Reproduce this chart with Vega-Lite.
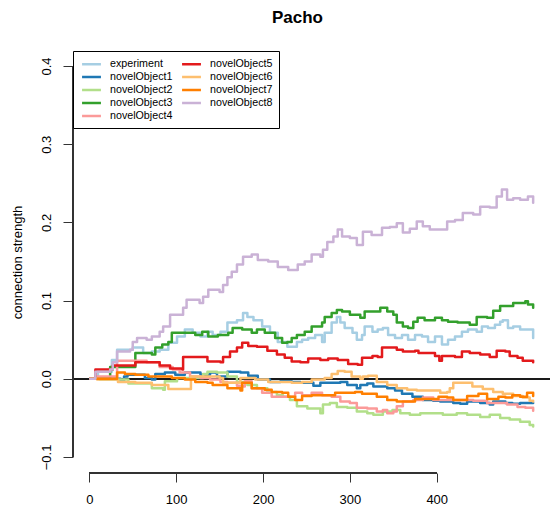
{
  "$schema": "https://vega.github.io/schema/vega-lite/v6.json",
  "width": 478,
  "height": 422,
  "autosize": {"type": "none"},
  "padding": {"left": 72, "top": 51, "right": 0, "bottom": 42},
  "config": {"view": {"stroke": null}, "font": "Liberation Sans"},
  "title": {"text": "Pacho", "font": "Liberation Sans", "fontSize": 17, "fontWeight": "bold", "color": "black", "anchor": "middle", "frame": "group", "dx": -13.5, "baseline": "alphabetic", "offset": 11},
  "data": {"values": [
    {"series":"experiment","step":1,"strength":0},{"series":"experiment","step":10,"strength":0.009},{"series":"experiment","step":26,"strength":0.024},{"series":"experiment","step":32,"strength":0.037},{"series":"experiment","step":50,"strength":0.040},{"series":"experiment","step":62,"strength":0.033},{"series":"experiment","step":72,"strength":0.035},{"series":"experiment","step":81,"strength":0.037},{"series":"experiment","step":91,"strength":0.046},{"series":"experiment","step":101,"strength":0.054},{"series":"experiment","step":110,"strength":0.063},{"series":"experiment","step":119,"strength":0.059},{"series":"experiment","step":128,"strength":0.054},{"series":"experiment","step":136,"strength":0.060},{"series":"experiment","step":142,"strength":0.056},{"series":"experiment","step":151,"strength":0.060},{"series":"experiment","step":159,"strength":0.072},{"series":"experiment","step":170,"strength":0.075},{"series":"experiment","step":177,"strength":0.084},{"series":"experiment","step":182,"strength":0.079},{"series":"experiment","step":189,"strength":0.075},{"series":"experiment","step":199,"strength":0.067},{"series":"experiment","step":208,"strength":0.059},{"series":"experiment","step":217,"strength":0.047},{"series":"experiment","step":228,"strength":0.041},{"series":"experiment","step":239,"strength":0.047},{"series":"experiment","step":245,"strength":0.050},{"series":"experiment","step":252,"strength":0.052},{"series":"experiment","step":260,"strength":0.056},{"series":"experiment","step":268,"strength":0.047},{"series":"experiment","step":271,"strength":0.059},{"series":"experiment","step":279,"strength":0.072},{"series":"experiment","step":285,"strength":0.079},{"series":"experiment","step":289,"strength":0.072},{"series":"experiment","step":294,"strength":0.065},{"series":"experiment","step":303,"strength":0.059},{"series":"experiment","step":308,"strength":0.050},{"series":"experiment","step":314,"strength":0.056},{"series":"experiment","step":317,"strength":0.067},{"series":"experiment","step":326,"strength":0.060},{"series":"experiment","step":332,"strength":0.063},{"series":"experiment","step":338,"strength":0.065},{"series":"experiment","step":344,"strength":0.056},{"series":"experiment","step":352,"strength":0.052},{"series":"experiment","step":360,"strength":0.056},{"series":"experiment","step":367,"strength":0.050},{"series":"experiment","step":375,"strength":0.056},{"series":"experiment","step":383,"strength":0.054},{"series":"experiment","step":390,"strength":0.047},{"series":"experiment","step":398,"strength":0.054},{"series":"experiment","step":406,"strength":0.044},{"series":"experiment","step":413,"strength":0.050},{"series":"experiment","step":421,"strength":0.054},{"series":"experiment","step":429,"strength":0.060},{"series":"experiment","step":436,"strength":0.063},{"series":"experiment","step":446,"strength":0.060},{"series":"experiment","step":452,"strength":0.067},{"series":"experiment","step":459,"strength":0.065},{"series":"experiment","step":467,"strength":0.069},{"series":"experiment","step":473,"strength":0.073},{"series":"experiment","step":476,"strength":0.075},{"series":"experiment","step":482,"strength":0.065},{"series":"experiment","step":488,"strength":0.067},{"series":"experiment","step":496,"strength":0.063},{"series":"experiment","step":504,"strength":0.063},{"series":"experiment","step":511,"strength":0.052},

    {"series":"novelObject1","step":1,"strength":0},{"series":"novelObject1","step":31,"strength":0},{"series":"novelObject1","step":36,"strength":-0.003},{"series":"novelObject1","step":40,"strength":0.003},{"series":"novelObject1","step":44,"strength":0.005},{"series":"novelObject1","step":64,"strength":0.001},{"series":"novelObject1","step":72,"strength":-0.001},{"series":"novelObject1","step":76,"strength":0.006},{"series":"novelObject1","step":87,"strength":0.008},{"series":"novelObject1","step":99,"strength":0.005},{"series":"novelObject1","step":110,"strength":0.008},{"series":"novelObject1","step":128,"strength":0.005},{"series":"novelObject1","step":139,"strength":0.008},{"series":"novelObject1","step":147,"strength":0.003},{"series":"novelObject1","step":159,"strength":0.009},{"series":"novelObject1","step":174,"strength":0.008},{"series":"novelObject1","step":183,"strength":0.004},{"series":"novelObject1","step":194,"strength":-0.001},{"series":"novelObject1","step":208,"strength":-0.004},{"series":"novelObject1","step":220,"strength":-0.003},{"series":"novelObject1","step":233,"strength":-0.004},{"series":"novelObject1","step":243,"strength":-0.005},{"series":"novelObject1","step":258,"strength":-0.009},{"series":"novelObject1","step":266,"strength":-0.005},{"series":"novelObject1","step":281,"strength":-0.005},{"series":"novelObject1","step":289,"strength":-0.004},{"series":"novelObject1","step":297,"strength":-0.008},{"series":"novelObject1","step":308,"strength":-0.012},{"series":"novelObject1","step":312,"strength":-0.008},{"series":"novelObject1","step":320,"strength":-0.006},{"series":"novelObject1","step":327,"strength":-0.010},{"series":"novelObject1","step":343,"strength":-0.012},{"series":"novelObject1","step":352,"strength":-0.015},{"series":"novelObject1","step":360,"strength":-0.019},{"series":"novelObject1","step":372,"strength":-0.023},{"series":"novelObject1","step":384,"strength":-0.027},{"series":"novelObject1","step":396,"strength":-0.028},{"series":"novelObject1","step":404,"strength":-0.029},{"series":"novelObject1","step":419,"strength":-0.031},{"series":"novelObject1","step":427,"strength":-0.032},{"series":"novelObject1","step":435,"strength":-0.029},{"series":"novelObject1","step":450,"strength":-0.031},{"series":"novelObject1","step":461,"strength":-0.033},{"series":"novelObject1","step":465,"strength":-0.029},{"series":"novelObject1","step":479,"strength":-0.031},{"series":"novelObject1","step":487,"strength":-0.032},{"series":"novelObject1","step":496,"strength":-0.031},{"series":"novelObject1","step":511,"strength":-0.031},

    {"series":"novelObject2","step":1,"strength":0},{"series":"novelObject2","step":12,"strength":-0.001},{"series":"novelObject2","step":45,"strength":-0.006},{"series":"novelObject2","step":72,"strength":-0.012},{"series":"novelObject2","step":85,"strength":-0.014},{"series":"novelObject2","step":87,"strength":-0.003},{"series":"novelObject2","step":101,"strength":0.001},{"series":"novelObject2","step":116,"strength":0.001},{"series":"novelObject2","step":131,"strength":0.006},{"series":"novelObject2","step":136,"strength":0.009},{"series":"novelObject2","step":147,"strength":0.008},{"series":"novelObject2","step":159,"strength":0.003},{"series":"novelObject2","step":170,"strength":-0.004},{"series":"novelObject2","step":182,"strength":-0.008},{"series":"novelObject2","step":193,"strength":-0.012},{"series":"novelObject2","step":205,"strength":-0.017},{"series":"novelObject2","step":216,"strength":-0.021},{"series":"novelObject2","step":223,"strength":-0.023},{"series":"novelObject2","step":231,"strength":-0.027},{"series":"novelObject2","step":239,"strength":-0.035},{"series":"novelObject2","step":251,"strength":-0.038},{"series":"novelObject2","step":266,"strength":-0.044},{"series":"novelObject2","step":269,"strength":-0.033},{"series":"novelObject2","step":277,"strength":-0.031},{"series":"novelObject2","step":285,"strength":-0.036},{"series":"novelObject2","step":297,"strength":-0.037},{"series":"novelObject2","step":308,"strength":-0.042},{"series":"novelObject2","step":320,"strength":-0.044},{"series":"novelObject2","step":327,"strength":-0.046},{"series":"novelObject2","step":338,"strength":-0.042},{"series":"novelObject2","step":349,"strength":-0.040},{"series":"novelObject2","step":358,"strength":-0.044},{"series":"novelObject2","step":369,"strength":-0.046},{"series":"novelObject2","step":381,"strength":-0.044},{"series":"novelObject2","step":400,"strength":-0.044},{"series":"novelObject2","step":407,"strength":-0.046},{"series":"novelObject2","step":423,"strength":-0.044},{"series":"novelObject2","step":435,"strength":-0.046},{"series":"novelObject2","step":450,"strength":-0.049},{"series":"novelObject2","step":461,"strength":-0.046},{"series":"novelObject2","step":473,"strength":-0.050},{"series":"novelObject2","step":484,"strength":-0.052},{"series":"novelObject2","step":496,"strength":-0.055},{"series":"novelObject2","step":507,"strength":-0.059},{"series":"novelObject2","step":511,"strength":-0.061},

    {"series":"novelObject3","step":1,"strength":0},{"series":"novelObject3","step":21,"strength":0},{"series":"novelObject3","step":24,"strength":0.015},{"series":"novelObject3","step":49,"strength":0.015},{"series":"novelObject3","step":53,"strength":0.033},{"series":"novelObject3","step":72,"strength":0.031},{"series":"novelObject3","step":76,"strength":0.040},{"series":"novelObject3","step":84,"strength":0.044},{"series":"novelObject3","step":91,"strength":0.047},{"series":"novelObject3","step":95,"strength":0.059},{"series":"novelObject3","step":107,"strength":0.059},{"series":"novelObject3","step":122,"strength":0.056},{"series":"novelObject3","step":130,"strength":0.060},{"series":"novelObject3","step":137,"strength":0.054},{"series":"novelObject3","step":148,"strength":0.056},{"series":"novelObject3","step":160,"strength":0.059},{"series":"novelObject3","step":165,"strength":0.065},{"series":"novelObject3","step":176,"strength":0.063},{"series":"novelObject3","step":187,"strength":0.059},{"series":"novelObject3","step":193,"strength":0.063},{"series":"novelObject3","step":202,"strength":0.059},{"series":"novelObject3","step":214,"strength":0.052},{"series":"novelObject3","step":222,"strength":0.046},{"series":"novelObject3","step":228,"strength":0.047},{"series":"novelObject3","step":233,"strength":0.052},{"series":"novelObject3","step":239,"strength":0.056},{"series":"novelObject3","step":248,"strength":0.060},{"series":"novelObject3","step":256,"strength":0.067},{"series":"novelObject3","step":268,"strength":0.072},{"series":"novelObject3","step":271,"strength":0.079},{"series":"novelObject3","step":279,"strength":0.084},{"series":"novelObject3","step":285,"strength":0.088},{"series":"novelObject3","step":291,"strength":0.086},{"series":"novelObject3","step":300,"strength":0.082},{"series":"novelObject3","step":312,"strength":0.078},{"series":"novelObject3","step":317,"strength":0.086},{"series":"novelObject3","step":329,"strength":0.086},{"series":"novelObject3","step":335,"strength":0.091},{"series":"novelObject3","step":343,"strength":0.086},{"series":"novelObject3","step":350,"strength":0.082},{"series":"novelObject3","step":354,"strength":0.072},{"series":"novelObject3","step":361,"strength":0.067},{"series":"novelObject3","step":367,"strength":0.065},{"series":"novelObject3","step":373,"strength":0.073},{"series":"novelObject3","step":378,"strength":0.078},{"series":"novelObject3","step":386,"strength":0.075},{"series":"novelObject3","step":398,"strength":0.078},{"series":"novelObject3","step":406,"strength":0.075},{"series":"novelObject3","step":413,"strength":0.073},{"series":"novelObject3","step":424,"strength":0.072},{"series":"novelObject3","step":438,"strength":0.069},{"series":"novelObject3","step":446,"strength":0.079},{"series":"novelObject3","step":458,"strength":0.078},{"series":"novelObject3","step":465,"strength":0.087},{"series":"novelObject3","step":473,"strength":0.093},{"series":"novelObject3","step":488,"strength":0.097},{"series":"novelObject3","step":502,"strength":0.099},{"series":"novelObject3","step":505,"strength":0.095},{"series":"novelObject3","step":511,"strength":0.091},

    {"series":"novelObject4","step":1,"strength":0},{"series":"novelObject4","step":7,"strength":0.003},{"series":"novelObject4","step":32,"strength":0.023},{"series":"novelObject4","step":53,"strength":0.023},{"series":"novelObject4","step":66,"strength":0.021},{"series":"novelObject4","step":81,"strength":0.015},{"series":"novelObject4","step":96,"strength":0.012},{"series":"novelObject4","step":104,"strength":0.008},{"series":"novelObject4","step":116,"strength":0.003},{"series":"novelObject4","step":128,"strength":0.001},{"series":"novelObject4","step":139,"strength":-0.001},{"series":"novelObject4","step":151,"strength":-0.004},{"series":"novelObject4","step":159,"strength":-0.005},{"series":"novelObject4","step":170,"strength":-0.009},{"series":"novelObject4","step":176,"strength":-0.010},{"series":"novelObject4","step":179,"strength":-0.003},{"series":"novelObject4","step":187,"strength":-0.012},{"series":"novelObject4","step":199,"strength":-0.018},{"series":"novelObject4","step":210,"strength":-0.023},{"series":"novelObject4","step":222,"strength":-0.023},{"series":"novelObject4","step":237,"strength":-0.018},{"series":"novelObject4","step":245,"strength":-0.021},{"series":"novelObject4","step":256,"strength":-0.018},{"series":"novelObject4","step":268,"strength":-0.021},{"series":"novelObject4","step":279,"strength":-0.023},{"series":"novelObject4","step":289,"strength":-0.029},{"series":"novelObject4","step":300,"strength":-0.031},{"series":"novelObject4","step":308,"strength":-0.037},{"series":"novelObject4","step":320,"strength":-0.038},{"series":"novelObject4","step":331,"strength":-0.042},{"series":"novelObject4","step":338,"strength":-0.040},{"series":"novelObject4","step":343,"strength":-0.044},{"series":"novelObject4","step":350,"strength":-0.042},{"series":"novelObject4","step":354,"strength":-0.035},{"series":"novelObject4","step":361,"strength":-0.029},{"series":"novelObject4","step":373,"strength":-0.027},{"series":"novelObject4","step":384,"strength":-0.024},{"series":"novelObject4","step":396,"strength":-0.027},{"series":"novelObject4","step":442,"strength":-0.028},{"series":"novelObject4","step":458,"strength":-0.031},{"series":"novelObject4","step":473,"strength":-0.031},{"series":"novelObject4","step":481,"strength":-0.033},{"series":"novelObject4","step":493,"strength":-0.036},{"series":"novelObject4","step":502,"strength":-0.037},{"series":"novelObject4","step":511,"strength":-0.041},

    {"series":"novelObject5","step":1,"strength":0},{"series":"novelObject5","step":7,"strength":0.012},{"series":"novelObject5","step":24,"strength":0.012},{"series":"novelObject5","step":27,"strength":0.017},{"series":"novelObject5","step":49,"strength":0.017},{"series":"novelObject5","step":53,"strength":0.021},{"series":"novelObject5","step":66,"strength":0.021},{"series":"novelObject5","step":81,"strength":0.017},{"series":"novelObject5","step":93,"strength":0.013},{"series":"novelObject5","step":107,"strength":0.012},{"series":"novelObject5","step":108,"strength":0.028},{"series":"novelObject5","step":124,"strength":0.028},{"series":"novelObject5","step":136,"strength":0.022},{"series":"novelObject5","step":151,"strength":0.021},{"series":"novelObject5","step":154,"strength":0.028},{"series":"novelObject5","step":162,"strength":0.035},{"series":"novelObject5","step":170,"strength":0.040},{"series":"novelObject5","step":176,"strength":0.046},{"series":"novelObject5","step":183,"strength":0.042},{"series":"novelObject5","step":193,"strength":0.041},{"series":"novelObject5","step":205,"strength":0.036},{"series":"novelObject5","step":216,"strength":0.031},{"series":"novelObject5","step":225,"strength":0.027},{"series":"novelObject5","step":233,"strength":0.022},{"series":"novelObject5","step":243,"strength":0.021},{"series":"novelObject5","step":252,"strength":0.026},{"series":"novelObject5","step":266,"strength":0.024},{"series":"novelObject5","step":275,"strength":0.026},{"series":"novelObject5","step":286,"strength":0.024},{"series":"novelObject5","step":298,"strength":0.019},{"series":"novelObject5","step":309,"strength":0.018},{"series":"novelObject5","step":314,"strength":0.027},{"series":"novelObject5","step":326,"strength":0.029},{"series":"novelObject5","step":332,"strength":0.028},{"series":"novelObject5","step":337,"strength":0.040},{"series":"novelObject5","step":349,"strength":0.040},{"series":"novelObject5","step":354,"strength":0.037},{"series":"novelObject5","step":361,"strength":0.035},{"series":"novelObject5","step":375,"strength":0.036},{"series":"novelObject5","step":379,"strength":0.033},{"series":"novelObject5","step":398,"strength":0.029},{"series":"novelObject5","step":403,"strength":0.023},{"series":"novelObject5","step":406,"strength":0.029},{"series":"novelObject5","step":421,"strength":0.028},{"series":"novelObject5","step":429,"strength":0.035},{"series":"novelObject5","step":438,"strength":0.033},{"series":"novelObject5","step":450,"strength":0.031},{"series":"novelObject5","step":461,"strength":0.028},{"series":"novelObject5","step":469,"strength":0.036},{"series":"novelObject5","step":479,"strength":0.035},{"series":"novelObject5","step":484,"strength":0.029},{"series":"novelObject5","step":493,"strength":0.027},{"series":"novelObject5","step":499,"strength":0.023},{"series":"novelObject5","step":511,"strength":0.021},

    {"series":"novelObject6","step":1,"strength":0},{"series":"novelObject6","step":9,"strength":-0.001},{"series":"novelObject6","step":33,"strength":-0.004},{"series":"novelObject6","step":53,"strength":-0.005},{"series":"novelObject6","step":72,"strength":-0.008},{"series":"novelObject6","step":91,"strength":-0.013},{"series":"novelObject6","step":116,"strength":-0.013},{"series":"novelObject6","step":117,"strength":0.003},{"series":"novelObject6","step":150,"strength":0.001},{"series":"novelObject6","step":154,"strength":-0.005},{"series":"novelObject6","step":170,"strength":-0.005},{"series":"novelObject6","step":174,"strength":0.001},{"series":"novelObject6","step":191,"strength":-0.001},{"series":"novelObject6","step":206,"strength":-0.004},{"series":"novelObject6","step":222,"strength":-0.004},{"series":"novelObject6","step":233,"strength":-0.005},{"series":"novelObject6","step":245,"strength":-0.004},{"series":"novelObject6","step":256,"strength":-0.001},{"series":"novelObject6","step":271,"strength":0.001},{"series":"novelObject6","step":279,"strength":0.006},{"series":"novelObject6","step":286,"strength":0.010},{"series":"novelObject6","step":294,"strength":0.009},{"series":"novelObject6","step":302,"strength":0.003},{"series":"novelObject6","step":312,"strength":0.000},{"series":"novelObject6","step":315,"strength":0.003},{"series":"novelObject6","step":321,"strength":0.004},{"series":"novelObject6","step":331,"strength":-0.004},{"series":"novelObject6","step":343,"strength":-0.008},{"series":"novelObject6","step":354,"strength":-0.012},{"series":"novelObject6","step":366,"strength":-0.014},{"series":"novelObject6","step":377,"strength":-0.015},{"series":"novelObject6","step":404,"strength":-0.018},{"series":"novelObject6","step":412,"strength":-0.017},{"series":"novelObject6","step":415,"strength":-0.012},{"series":"novelObject6","step":419,"strength":-0.005},{"series":"novelObject6","step":436,"strength":-0.005},{"series":"novelObject6","step":441,"strength":-0.010},{"series":"novelObject6","step":453,"strength":-0.013},{"series":"novelObject6","step":465,"strength":-0.017},{"series":"novelObject6","step":476,"strength":-0.019},{"series":"novelObject6","step":488,"strength":-0.022},{"series":"novelObject6","step":499,"strength":-0.024},{"series":"novelObject6","step":507,"strength":-0.028},{"series":"novelObject6","step":511,"strength":-0.029},

    {"series":"novelObject7","step":1,"strength":0},{"series":"novelObject7","step":27,"strength":0},{"series":"novelObject7","step":32,"strength":0.008},{"series":"novelObject7","step":41,"strength":0.006},{"series":"novelObject7","step":53,"strength":0.005},{"series":"novelObject7","step":68,"strength":0.003},{"series":"novelObject7","step":84,"strength":0.003},{"series":"novelObject7","step":95,"strength":0.001},{"series":"novelObject7","step":110,"strength":-0.001},{"series":"novelObject7","step":122,"strength":-0.004},{"series":"novelObject7","step":136,"strength":-0.005},{"series":"novelObject7","step":142,"strength":-0.008},{"series":"novelObject7","step":159,"strength":-0.012},{"series":"novelObject7","step":174,"strength":-0.015},{"series":"novelObject7","step":176,"strength":-0.005},{"series":"novelObject7","step":187,"strength":-0.012},{"series":"novelObject7","step":202,"strength":-0.014},{"series":"novelObject7","step":210,"strength":-0.017},{"series":"novelObject7","step":222,"strength":-0.018},{"series":"novelObject7","step":229,"strength":-0.023},{"series":"novelObject7","step":237,"strength":-0.027},{"series":"novelObject7","step":245,"strength":-0.022},{"series":"novelObject7","step":256,"strength":-0.021},{"series":"novelObject7","step":275,"strength":-0.021},{"series":"novelObject7","step":283,"strength":-0.018},{"series":"novelObject7","step":294,"strength":-0.018},{"series":"novelObject7","step":306,"strength":-0.017},{"series":"novelObject7","step":314,"strength":-0.019},{"series":"novelObject7","step":331,"strength":-0.023},{"series":"novelObject7","step":343,"strength":-0.027},{"series":"novelObject7","step":354,"strength":-0.029},{"series":"novelObject7","step":366,"strength":-0.029},{"series":"novelObject7","step":375,"strength":-0.026},{"series":"novelObject7","step":402,"strength":-0.023},{"series":"novelObject7","step":412,"strength":-0.024},{"series":"novelObject7","step":419,"strength":-0.027},{"series":"novelObject7","step":435,"strength":-0.022},{"series":"novelObject7","step":448,"strength":-0.019},{"series":"novelObject7","step":458,"strength":-0.026},{"series":"novelObject7","step":471,"strength":-0.023},{"series":"novelObject7","step":479,"strength":-0.024},{"series":"novelObject7","step":487,"strength":-0.021},{"series":"novelObject7","step":496,"strength":-0.023},{"series":"novelObject7","step":504,"strength":-0.018},{"series":"novelObject7","step":511,"strength":-0.022},

    {"series":"novelObject8","step":1,"strength":0},{"series":"novelObject8","step":7,"strength":0.009},{"series":"novelObject8","step":24,"strength":0.012},{"series":"novelObject8","step":27,"strength":0.021},{"series":"novelObject8","step":32,"strength":0.035},{"series":"novelObject8","step":47,"strength":0.037},{"series":"novelObject8","step":50,"strength":0.047},{"series":"novelObject8","step":55,"strength":0.052},{"series":"novelObject8","step":66,"strength":0.050},{"series":"novelObject8","step":72,"strength":0.054},{"series":"novelObject8","step":81,"strength":0.060},{"series":"novelObject8","step":85,"strength":0.067},{"series":"novelObject8","step":93,"strength":0.082},{"series":"novelObject8","step":102,"strength":0.082},{"series":"novelObject8","step":108,"strength":0.091},{"series":"novelObject8","step":112,"strength":0.101},{"series":"novelObject8","step":119,"strength":0.101},{"series":"novelObject8","step":127,"strength":0.097},{"series":"novelObject8","step":131,"strength":0.105},{"series":"novelObject8","step":137,"strength":0.114},{"series":"novelObject8","step":150,"strength":0.111},{"series":"novelObject8","step":154,"strength":0.120},{"series":"novelObject8","step":159,"strength":0.130},{"series":"novelObject8","step":164,"strength":0.137},{"series":"novelObject8","step":170,"strength":0.146},{"series":"novelObject8","step":177,"strength":0.156},{"series":"novelObject8","step":187,"strength":0.159},{"series":"novelObject8","step":194,"strength":0.152},{"series":"novelObject8","step":206,"strength":0.150},{"series":"novelObject8","step":217,"strength":0.143},{"series":"novelObject8","step":229,"strength":0.139},{"series":"novelObject8","step":240,"strength":0.146},{"series":"novelObject8","step":248,"strength":0.150},{"series":"novelObject8","step":256,"strength":0.159},{"series":"novelObject8","step":266,"strength":0.156},{"series":"novelObject8","step":269,"strength":0.165},{"series":"novelObject8","step":274,"strength":0.175},{"series":"novelObject8","step":281,"strength":0.182},{"series":"novelObject8","step":286,"strength":0.191},{"series":"novelObject8","step":291,"strength":0.182},{"series":"novelObject8","step":300,"strength":0.180},{"series":"novelObject8","step":308,"strength":0.171},{"series":"novelObject8","step":315,"strength":0.188},{"series":"novelObject8","step":325,"strength":0.184},{"series":"novelObject8","step":337,"strength":0.193},{"series":"novelObject8","step":346,"strength":0.194},{"series":"novelObject8","step":354,"strength":0.199},{"series":"novelObject8","step":361,"strength":0.187},{"series":"novelObject8","step":369,"strength":0.192},{"series":"novelObject8","step":377,"strength":0.201},{"series":"novelObject8","step":384,"strength":0.195},{"series":"novelObject8","step":392,"strength":0.191},{"series":"novelObject8","step":401,"strength":0.191},{"series":"novelObject8","step":412,"strength":0.201},{"series":"novelObject8","step":421,"strength":0.203},{"series":"novelObject8","step":430,"strength":0.212},{"series":"novelObject8","step":442,"strength":0.210},{"series":"novelObject8","step":450,"strength":0.220},{"series":"novelObject8","step":461,"strength":0.219},{"series":"novelObject8","step":469,"strength":0.233},{"series":"novelObject8","step":475,"strength":0.242},{"series":"novelObject8","step":481,"strength":0.229},{"series":"novelObject8","step":488,"strength":0.231},{"series":"novelObject8","step":496,"strength":0.229},{"series":"novelObject8","step":505,"strength":0.233},{"series":"novelObject8","step":511,"strength":0.225}
  ]},
  "layer": [
    {
      "mark": {"type": "rule", "color": "#1a1a1a", "strokeWidth": 1},
      "encoding": {
        "y": {"datum": 0, "type": "quantitative", "scale": {"domain": [-0.1205, 0.4192], "nice": false, "zero": false}}
      }
    },
    {
      "mark": {"type": "line", "interpolate": "step-after", "strokeWidth": 2.5, "strokeCap": "round", "strokeJoin": "round"},
      "encoding": {
        "x": {
          "field": "step", "type": "quantitative",
          "scale": {"domain": [-19.92, 530.4], "nice": false, "zero": false},
          "axis": {"values": [0, 100, 200, 300, 400], "title": null, "domain": false, "grid": false, "tickSize": 9, "tickColor": "#333333", "labelFontSize": 13, "labelFont": "Liberation Sans", "labelColor": "black", "labelPadding": 11, "labelFlush": false}
        },
        "y": {
          "field": "strength", "type": "quantitative",
          "scale": {"domain": [-0.1205, 0.4192], "nice": false, "zero": false},
          "axis": {"values": [-0.1, 0, 0.1, 0.2, 0.3, 0.4], "format": ".1f", "title": "connection strength", "titleFont": "Liberation Sans", "titleFontSize": 13, "titleFontWeight": "normal", "titleColor": "black", "titlePadding": 16, "domain": false, "grid": false, "tickSize": 10, "tickColor": "#333333", "offset": -1, "labelAngle": -90, "labelAlign": "center", "labelBaseline": "bottom", "labelFontSize": 13, "labelFont": "Liberation Sans", "labelColor": "black", "labelPadding": 10, "labelFlush": false}
        },
        "color": {
          "field": "series", "type": "nominal",
          "scale": {
            "domain": ["experiment", "novelObject1", "novelObject2", "novelObject3", "novelObject4", "novelObject5", "novelObject6", "novelObject7", "novelObject8"],
            "range": ["#A6CEE3", "#1F78B4", "#B2DF8A", "#33A02C", "#FB9A99", "#E31A1C", "#FDBF6F", "#FF7F00", "#CAB2D6"]
          },
          "legend": {"orient": "none", "legendX": 1, "legendY": 0, "columns": 2, "title": null, "symbolType": "M-1.8,0H1.8", "symbolSize": 110, "symbolStrokeWidth": 2.5, "symbolOffset": 5.5, "labelOffset": 12, "labelFontSize": 10.7, "labelFont": "Liberation Sans", "labelColor": "black", "rowPadding": 1, "columnPadding": 4, "padding": 6.5, "strokeColor": "black", "fillColor": "white", "labelLimit": 0, "cornerRadius": 0}
        }
      }
    },
    {
      "mark": {"type": "rule", "color": "#333333", "strokeWidth": 1},
      "encoding": {"x": {"datum": 0}, "x2": {"datum": 400}, "y": {"datum": -0.1205}}
    },
    {
      "mark": {"type": "rule", "color": "#333333", "strokeWidth": 1},
      "encoding": {"x": {"datum": -18.5}, "y": {"datum": -0.1}, "y2": {"datum": 0.4}}
    }
  ]
}
